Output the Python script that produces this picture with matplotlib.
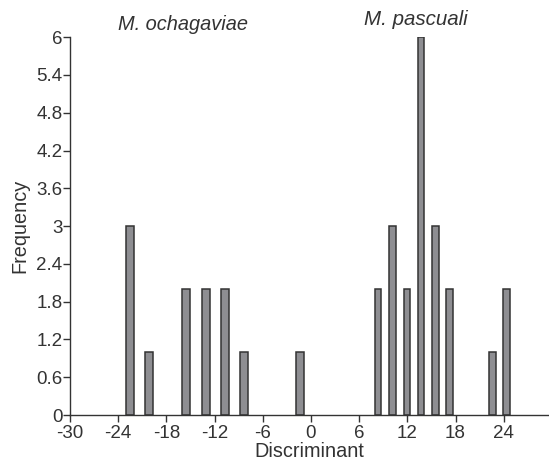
import matplotlib.pyplot as plt

plt.rcParams['font.family'] = ['Liberation Sans', 'DejaVu Sans']
plt.rcParams['axes.unicode_minus'] = False

# M. ochagaviae (left group)
och_x = [-22.5, -20.2, -15.5, -13.05, -10.75, -8.35, -1.35]
och_freq = [3, 1, 2, 2, 2, 1, 1]

# M. pascuali (right group)
pas_x = [8.35, 10.15, 11.95, 13.7, 15.5, 17.2, 22.6, 24.35]
pas_freq = [2, 3, 2, 6, 3, 2, 1, 2]

xticks = [-30, -24, -18, -12, -6, 0, 6, 12, 18, 24]
yticks = [0, 0.6, 1.2, 1.8, 2.4, 3, 3.6, 4.2, 4.8, 5.4, 6]
ytick_labels = ['0', '0.6', '1.2', '1.8', '2.4', '3', '3.6', '4.2', '4.8', '5.4', '6']

fig = plt.figure(figsize=(5.49, 4.65), dpi=100)
ax = fig.add_axes([0.1275, 0.1075, 0.8705, 0.8125])

dark = '#333333'
ax.bar(och_x, och_freq, width=1.0, color='#8e8e92', edgecolor=dark, linewidth=1.1)
ax.bar(pas_x, pas_freq, width=0.85, color='#8e8e92', edgecolor=dark, linewidth=1.1)

ax.set_xlim(-30, 29.5)
ax.set_ylim(0, 6)
ax.set_xticks(xticks)
ax.set_xticklabels([str(t) for t in xticks])
ax.set_yticks(yticks)
ax.set_yticklabels(ytick_labels)

for s in ['top', 'right']:
    ax.spines[s].set_visible(False)
for s in ['left', 'bottom']:
    ax.spines[s].set_color(dark)
    ax.spines[s].set_linewidth(1.0)
ax.tick_params(colors=dark, labelsize=13.5, length=5, width=1.0, pad=0.5)
ax.tick_params(axis='x', pad=2.5)

ax.set_xlabel('Discriminant', fontsize=14.3, color=dark, labelpad=0)
ax.set_ylabel('Frequency', fontsize=14.3, color=dark, labelpad=5)

fig.text(0.333, 0.948, 'M. ochagaviae', style='italic', fontsize=14.4,
         color=dark, ha='center', va='center')
fig.text(0.757, 0.958, 'M. pascuali', style='italic', fontsize=14.8,
         color=dark, ha='center', va='center')

fig.savefig('out.png', dpi=100)
